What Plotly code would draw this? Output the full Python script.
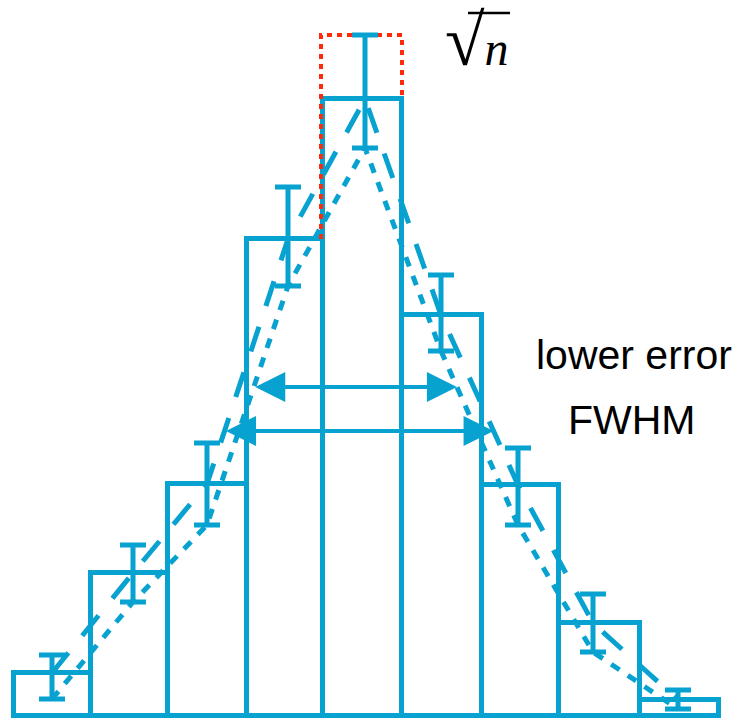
import numpy as np
import plotly.graph_objects as go

# ---- data (y: counts, x: position along the histogram axis) ----
bin_edges = [14, 91, 168, 247, 323, 402, 482, 559, 640, 719]
counts    = [43, 143, 232, 477, 617, 401, 231, 93, 16]
err_x     = [52, 133, 207, 288, 365, 441, 518, 593, 678]
err_up    = [18, 28, 41, 52, 64, 40, 37, 29, 10]
err_lo    = [26, 29, 41, 47, 49, 36, 40, 29, 9]
fwhm_levels = {"lower": 329, "counts": 285}   # heights of the two FWHM arrows
labels = ["lower error", "FWHM"]

BLUE = "#07A2D0"
RED = "#FF2A08"

edges = np.array(bin_edges, float)
centers = (edges[:-1] + edges[1:]) / 2
widths = np.diff(edges)
lower_pts = [c - l for c, l in zip(counts, err_lo)]

fig = go.Figure()

# histogram bars
fig.add_trace(go.Bar(x=centers, y=counts, width=widths,
                     marker=dict(color="white", line=dict(color=BLUE, width=5)),
                     hoverinfo="skip"))

# sqrt(n) red dotted box on the peak bin
k = int(np.argmax(counts))
fig.add_trace(go.Scatter(
    x=[edges[k] - 2, edges[k] - 2, edges[k + 1], edges[k + 1]],
    y=[counts[k - 1], counts[k] + err_up[k], counts[k] + err_up[k], counts[k]],
    mode="lines", line=dict(color=RED, width=4, dash="5px,5px")))

# error bars
fig.add_trace(go.Scatter(x=err_x, y=counts, mode="markers",
                         marker=dict(size=1, color="rgba(0,0,0,0)"),
                         error_y=dict(type="data", array=err_up, arrayminus=err_lo,
                                      symmetric=False, color=BLUE, thickness=5, width=13)))

# long-dashed line through counts
fig.add_trace(go.Scatter(x=err_x, y=counts, mode="lines",
                         line=dict(color=BLUE, width=5, dash="26px,22px")))
# short-dashed line through lower errors
fig.add_trace(go.Scatter(x=err_x, y=lower_pts, mode="lines",
                         line=dict(color=BLUE, width=5, dash="10px,10px")))


def crossings(xs, ys, level):
    xs = np.array(xs, float); ys = np.array(ys, float)
    p = int(np.argmax(ys))
    left = np.interp(level, ys[:p + 1], xs[:p + 1])
    right = np.interp(level, ys[p:][::-1], xs[p:][::-1])
    return left, right


for name, lvl in fwhm_levels.items():
    ys = lower_pts if name == "lower" else counts
    xl, xr = crossings(err_x, ys, lvl)
    fig.add_annotation(x=xr, y=lvl, ax=xl, ay=lvl, xref="x", yref="y",
                       axref="x", ayref="y", text="", showarrow=True,
                       arrowhead=2, arrowsize=1.5, arrowwidth=4, arrowcolor=BLUE,
                       arrowside="end+start", standoff=0, startstandoff=0)

fig.add_annotation(x=634, y=361, text=labels[0], showarrow=False,
                   font=dict(family="Liberation Sans, Arial", size=41, color="black"),
                   xanchor="center", yanchor="middle")
fig.add_annotation(x=632, y=296, text=labels[1], showarrow=False,
                   font=dict(family="Liberation Sans, Arial", size=41, color="black"),
                   xanchor="center", yanchor="middle")

# sqrt(n) as one text
fig.add_annotation(x=443, y=675, text="<span style='font-size:72px'>√</span><i>n</i>",
                   showarrow=False,
                   font=dict(family="Liberation Serif", size=48, color="black"),
                   xanchor="left", yanchor="middle")
fig.add_shape(type="line", x0=468, x1=510, y0=703, y1=703, xref="x", yref="y",
              line=dict(color="black", width=2.5))

fig.update_layout(width=744, height=721, margin=dict(l=0, r=0, t=0, b=0),
                  paper_bgcolor="white", plot_bgcolor="white", showlegend=False,
                  bargap=0)
fig.update_xaxes(range=[0, 744], visible=False, fixedrange=True)
fig.update_yaxes(range=[-5, 716], visible=False, fixedrange=True)

fig.write_html("out.html")
